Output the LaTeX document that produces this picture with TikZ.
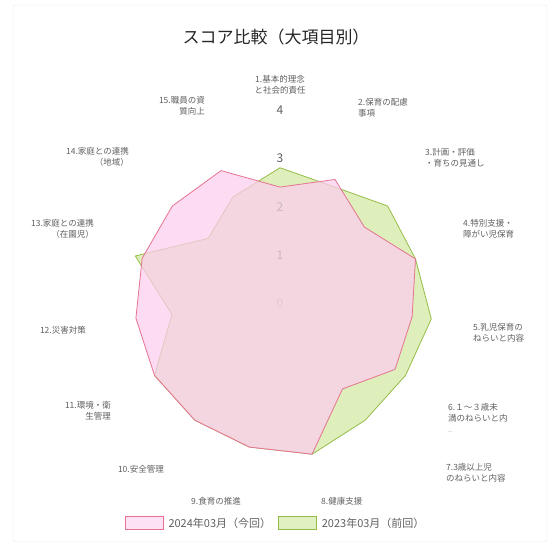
\documentclass[tikz,border=0pt]{standalone}
\usepackage{fontspec}
\usepackage{tikz}
\setmainfont{Noto Sans CJK JP}
\newfontfamily\jpbold[AutoFakeBold=4]{Noto Sans CJK JP}

\definecolor{kongray}{RGB}{95,95,95}
\definecolor{pinkline}{RGB}{230,115,145}
\definecolor{pinkfill}{RGB}{252,205,238}
\definecolor{greenline}{RGB}{150,188,72}
\definecolor{greenfill}{RGB}{205,230,150}

\tikzset{
  axlabel/.style={inner sep=0pt, text=kongray, font=\fontsize{8.5}{11}\selectfont},
  ticklabel/.style={inner sep=0pt, font=\fontsize{12}{12}\selectfont},
  lastyear/.style={draw=greenline, line width=0.8pt, fill=greenfill, fill opacity=0.65, line join=round},
  thisyear/.style={draw=pinkline, line width=0.8pt, fill=pinkfill, fill opacity=0.72, line join=round},
  keybox/.style={line width=0.6pt, minimum width=38pt, minimum height=13pt, inner sep=0pt},
  keytext/.style={anchor=west, inner sep=0pt, text=kongray, font=\fontsize{11}{11}\selectfont}
}

\begin{document}
\begin{tikzpicture}[x=1pt,y=1pt]
\useasboundingbox (0,0) rectangle (550,548);
\draw[gray!18, rounded corners=3pt] (13,6) rectangle (547,543);
\coordinate (C) at (280,245);

\node[font=\jpbold\fontsize{17}{17}\selectfont, text=black!85] (title) at (276,511) {スコア比較（大項目別）};

% the two data sets, one unit = 48.3pt
\begin{scope}[shift={(C)}, x=48.3pt, y=48.3pt]
\draw[lastyear] (90:2.8) -- (66:2.65) -- (42:3.0) -- (18:2.95) -- (-6:3.15)
  -- (-30:3.0) -- (-54:3.0) -- (-78:3.2) -- (-102:3.05) -- (-126:3.0)
  -- (-150:3.0) -- (-174:2.25) -- (-198:3.15) -- (-222:2.0) -- (-246:2.4) -- cycle;
\draw[thisyear] (90:2.4) -- (66:2.8) -- (42:2.35) -- (18:2.95) -- (-6:2.75)
  -- (-30:2.75) -- (-54:2.2) -- (-78:3.2) -- (-102:3.05) -- (-126:3.0)
  -- (-150:3.0) -- (-174:3.0) -- (-198:3.0) -- (-222:3.0) -- (-246:3.0) -- cycle;
\end{scope}

% scale values on the top axis
\node[ticklabel, text=kongray] (t4) at (280,438) {4};
\node[ticklabel, text=kongray] (t3) at (280,390) {3};
\node[ticklabel, text=gray, text opacity=0.35] (t2) at (280,341) {2};
\node[ticklabel, text=gray, text opacity=0.35] (t1) at (280,293) {1};
\node[ticklabel, text=gray, text opacity=0.15] (t0) at (280,245) {0};

\node[axlabel, anchor=center] (l1) at (280,462) {\begin{tabular}{@{}c@{}}1.基本的理念\\と社会的責任\end{tabular}};
\node[axlabel, anchor=west] (l2) at (358,439) {\begin{tabular}{@{}l@{}}2.保育の配慮\\事項\end{tabular}};
\node[axlabel, anchor=west] (l3) at (425,389) {\begin{tabular}{@{}l@{}}3.計画・評価\\・育ちの見通し\end{tabular}};
\node[axlabel, anchor=west] (l4) at (463,318) {\begin{tabular}{@{}l@{}}4.特別支援・\\障がい児保育\end{tabular}};
\node[axlabel, anchor=west] (l5) at (473,214) {\begin{tabular}{@{}l@{}}5.乳児保育の\\ねらいと内容\end{tabular}};
\node[axlabel, anchor=west] (l6) at (448,129) {\begin{tabular}{@{}l@{}}6.１～３歳未\\満のねらいと内\\{\tiny ...}\end{tabular}};
\node[axlabel, anchor=west] (l7) at (446,74) {\begin{tabular}{@{}l@{}}7.3歳以上児\\のねらいと内容\end{tabular}};
\node[axlabel, anchor=west] (l8) at (321,47) {8.健康支援};
\node[axlabel, anchor=east] (l9) at (241,47) {9.食育の推進};
\node[axlabel, anchor=east] (l10) at (164,79) {10.安全管理};
\node[axlabel, anchor=east] (l11) at (111,136) {\begin{tabular}{@{}r@{}}11.環境・衛\\生管理\end{tabular}};
\node[axlabel, anchor=east] (l12) at (86,218) {12.災害対策};
\node[axlabel, anchor=east] (l13) at (94,318) {\begin{tabular}{@{}r@{}}13.家庭との連携\\（在園児）\end{tabular}};
\node[axlabel, anchor=east] (l14) at (129,390) {\begin{tabular}{@{}r@{}}14.家庭との連携\\（地域）\end{tabular}};
\node[axlabel, anchor=east] (l15) at (205,441) {\begin{tabular}{@{}r@{}}15.職員の資\\質向上\end{tabular}};

% legend
\node[keybox, draw=pinkline, fill=pinkfill!60] (k1) at (144,25) {};
\node[keytext] (k1t) at ([xshift=5pt]k1.east) {2024年03月（今回）};
\node[keybox, draw=greenline, fill=greenfill!60] (k2) at ([xshift=26pt]k1t.east) {};
\node[keytext] (k2t) at ([xshift=5pt]k2.east) {2023年03月（前回）};
\end{tikzpicture}
\end{document}
